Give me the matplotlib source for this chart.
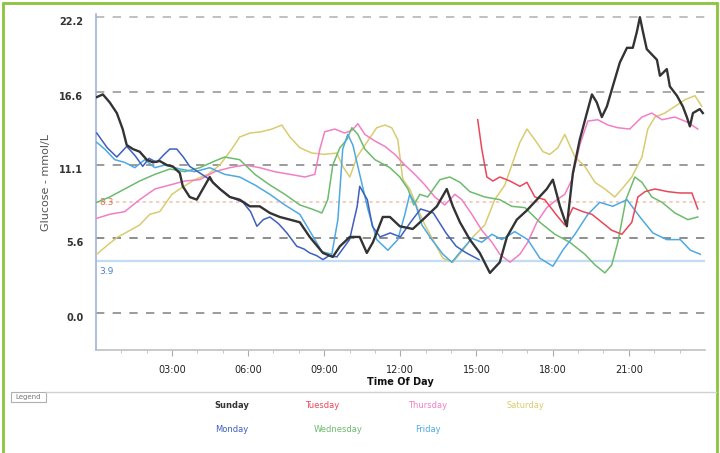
import matplotlib
matplotlib.use("Agg")
import matplotlib.pyplot as plt
from matplotlib.patches import Rectangle
from matplotlib.lines import Line2D

# ---------------- data (hours, mmol/L) ----------------
sun_t = [0.04, 0.28, 0.55, 0.83, 1.06, 1.22, 1.46, 1.73, 2.01, 2.25, 2.52, 2.8, 3.03, 3.31, 3.43, 3.7, 3.98,
         4.22, 4.49, 4.61, 4.89, 5.28, 5.67, 6.07, 6.46, 6.86, 7.25, 7.65, 8.04, 8.43, 8.95, 9.34, 9.62, 10.01,
         10.4, 10.68, 10.92, 11.31, 11.59, 11.98, 12.49, 12.89, 13.44, 13.83, 14.07, 14.35, 14.74, 15.13, 15.53,
         15.92, 16.2, 16.59, 16.99, 17.38, 17.77, 18.01, 18.29, 18.56, 18.68, 18.8, 19.07, 19.35, 19.55, 19.74,
         19.94, 20.14, 20.37, 20.65, 20.93, 21.16, 21.32, 21.44, 21.56, 21.71, 22.11, 22.23, 22.5, 22.62, 22.9,
         23.13, 23.29, 23.41, 23.53, 23.8, 23.92]
sun_v = [16.2, 16.4, 15.8, 15.0, 13.8, 12.6, 12.3, 12.1, 11.5, 11.3, 11.4, 11.1, 11.0, 10.5, 9.5, 8.7, 8.5,
         9.3, 10.2, 9.8, 9.3, 8.7, 8.5, 8.0, 8.0, 7.5, 7.2, 7.0, 6.8, 5.7, 4.5, 4.2, 5.0, 5.7,
         5.7, 4.5, 5.3, 7.2, 7.2, 6.5, 6.3, 7.0, 8.0, 9.3, 8.0, 6.8, 5.5, 4.5, 3.0,
         3.8, 5.7, 7.0, 7.7, 8.5, 9.3, 10.0, 8.0, 6.5, 8.5, 10.5, 13.0, 15.0, 16.4, 15.8,
         14.7, 15.5, 17.0, 18.8, 19.9, 19.9, 21.1, 22.2, 21.1, 19.8, 19.0, 17.8, 18.3, 17.0, 16.3,
         15.5, 14.7, 14.0, 15.0, 15.3, 15.0]

mon_t = [0.04, 0.45, 0.83, 1.22, 1.55, 1.85, 2.1, 2.4, 2.7, 2.92, 3.19, 3.45, 3.7, 4.1, 4.5, 4.9, 5.3, 5.8,
         6.1, 6.35, 6.6, 6.86, 7.2, 7.53, 7.92, 8.2, 8.43, 8.7, 8.95, 9.2, 9.5, 10.0, 10.3, 10.4, 10.7, 10.9,
         11.2, 11.6, 12.0, 12.4, 12.8, 13.3, 13.8, 14.2, 14.6, 15.1]
mon_v = [13.5, 12.4, 11.7, 12.5, 11.8, 11.0, 11.6, 11.3, 11.9, 12.3, 12.3, 11.7, 11.0, 10.5, 10.0, 9.3, 8.7, 8.3,
         7.6, 6.5, 7.0, 7.2, 6.7, 6.0, 5.0, 4.8, 4.5, 4.3, 4.0, 4.3, 4.2, 5.5, 8.0, 9.5, 8.5, 6.5,
         5.7, 6.0, 5.7, 6.8, 7.8, 7.5, 6.0, 5.0, 4.5, 4.0]

tue_t = [15.05, 15.21, 15.41, 15.65, 15.92, 16.32, 16.71, 16.99, 17.3, 17.69, 18.13, 18.48, 18.8, 19.19,
         19.55, 19.94, 20.33, 20.73, 21.12, 21.36, 21.64, 22.03, 22.54, 23.01, 23.49, 23.72]
tue_v = [14.5, 12.3, 10.2, 9.9, 10.2, 9.9, 9.5, 9.8, 8.7, 8.5, 7.4, 6.6, 7.9, 7.6,
         7.4, 6.8, 6.2, 5.9, 6.8, 8.7, 9.1, 9.3, 9.1, 9.0, 9.0, 7.8]

wed_t = [0.04, 0.55, 1.14, 1.73, 2.33, 2.92, 3.51, 4.1, 4.69, 5.08, 5.67, 6.27, 6.86, 7.45, 8.04, 8.51, 8.91,
         9.14, 9.34, 9.62, 9.89, 10.09, 10.33, 10.6, 11.0, 11.59, 11.98, 12.3, 12.53, 12.77, 13.08, 13.56, 13.95,
         14.35, 14.74, 15.33, 15.92, 16.39, 16.91, 17.5, 18.09, 18.68, 19.27, 19.67, 20.06, 20.33, 20.57, 20.89,
         21.24, 21.52, 21.91, 22.31, 22.82, 23.33, 23.72]
wed_v = [8.3, 8.7, 9.3, 9.9, 10.4, 10.8, 10.6, 10.9, 11.4, 11.7, 11.5, 10.4, 9.6, 8.9, 8.1, 7.8, 7.5,
         8.5, 11.1, 12.4, 13.0, 13.9, 13.4, 12.3, 11.5, 10.9, 10.2, 9.3, 8.1, 8.9, 8.7, 10.0, 10.2,
         9.8, 9.1, 8.7, 8.5, 8.0, 7.9, 6.8, 5.9, 5.3, 4.4, 3.6, 3.0, 3.6, 5.3, 8.5,
         10.2, 9.8, 8.7, 8.3, 7.5, 7.0, 7.2]

thu_t = [0.04, 0.55, 1.14, 1.73, 2.33, 2.92, 3.51, 4.1, 4.69, 5.28, 5.87, 6.46, 7.05, 7.65, 8.24, 8.63, 8.83,
         9.02, 9.42, 9.81, 10.09, 10.33, 10.6, 11.0, 11.39, 11.78, 12.18, 12.57, 12.97, 13.36, 13.75, 14.15,
         14.42, 14.82, 15.21, 15.61, 15.92, 16.32, 16.71, 17.02, 17.38, 17.77, 18.17, 18.48, 18.76, 19.07,
         19.39, 19.78, 20.18, 20.57, 21.04, 21.52, 21.91, 22.31, 22.82, 23.33, 23.72]
thu_v = [7.1, 7.4, 7.6, 8.5, 9.3, 9.6, 9.9, 10.0, 10.6, 10.9, 11.1, 10.9, 10.6, 10.4, 10.2, 10.4, 12.3,
         13.6, 13.8, 13.5, 13.7, 14.2, 13.4, 12.9, 12.5, 11.9, 11.1, 10.4, 9.6, 8.7, 8.1, 8.9,
         8.5, 7.4, 6.2, 5.3, 4.4, 3.8, 4.4, 5.3, 6.8, 7.9, 8.5, 8.9, 10.0, 12.6,
         14.4, 14.5, 14.1, 13.9, 13.8, 14.7, 15.0, 14.5, 14.7, 14.3, 13.8]

fri_t = [0.04, 0.35, 0.75, 1.14, 1.54, 1.93, 2.33, 2.72, 3.31, 3.9, 4.49, 5.08, 5.67, 6.27, 6.86, 7.45, 8.04,
         8.51, 8.91, 9.3, 9.54, 9.73, 9.93, 10.13, 10.4, 10.72, 11.07, 11.51, 11.9, 12.18, 12.37, 12.61, 12.85,
         13.24, 13.68, 14.03, 14.42, 14.82, 15.21, 15.61, 16.0, 16.51, 17.02, 17.5, 18.01, 18.4, 18.88, 19.39,
         19.86, 20.37, 20.93, 21.44, 21.95, 22.5, 23.03, 23.43, 23.82]
fri_v = [12.8, 12.3, 11.5, 11.3, 10.9, 11.5, 10.9, 11.1, 10.8, 10.6, 10.9, 10.4, 10.2, 9.6, 8.9, 8.1, 7.4,
         5.9, 4.6, 4.4, 7.0, 12.3, 13.4, 12.6, 10.4, 7.8, 5.5, 4.7, 5.5, 7.4, 8.9, 8.1, 6.6,
         5.5, 4.4, 3.8, 4.7, 5.6, 5.3, 5.9, 5.5, 6.1, 5.5, 4.1, 3.5, 4.7, 5.9, 7.4,
         8.3, 8.0, 8.5, 7.2, 6.0, 5.5, 5.5, 4.7, 4.4]

sat_t = [0.04, 0.47, 0.87, 1.26, 1.73, 2.13, 2.52, 3.0, 3.39, 3.9, 4.41, 4.89, 5.36, 5.67, 6.07, 6.54, 6.94,
         7.33, 7.65, 8.04, 8.51, 9.02, 9.5, 9.73, 10.01, 10.29, 10.68, 11.07, 11.39, 11.66, 11.9, 12.1, 12.37,
         12.69, 12.97, 13.28, 13.68, 14.07, 14.46, 14.86, 15.33, 15.72, 16.12, 16.43, 16.71, 16.99, 17.3, 17.62,
         17.89, 18.21, 18.48, 18.88, 19.27, 19.67, 20.06, 20.45, 20.73, 21.12, 21.52, 21.75, 22.03, 22.42, 22.82,
         23.21, 23.61, 23.88]
sat_v = [4.4, 5.1, 5.7, 6.1, 6.6, 7.4, 7.6, 8.9, 9.4, 10.0, 10.4, 11.1, 12.3, 13.2, 13.5, 13.6, 13.8,
         14.1, 13.2, 12.4, 12.0, 11.9, 12.0, 11.0, 10.2, 11.7, 12.8, 13.9, 14.1, 13.9, 13.0, 10.0, 9.3,
         7.8, 6.6, 5.5, 4.1, 3.8, 4.7, 5.7, 6.6, 8.5, 9.6, 11.3, 12.8, 13.8, 13.0, 12.1,
         11.9, 12.4, 13.4, 11.7, 11.0, 9.8, 9.3, 8.7, 9.3, 10.2, 11.7, 13.8, 14.7, 15.0, 15.5,
         16.0, 16.3, 15.5]

series_names = ["Sunday", "Monday", "Tuesday", "Wednesday", "Thursday", "Friday", "Saturday"]
series_colors = ["#333333", "#3f5fbf", "#e8475a", "#6dbb6d", "#f27fc4", "#4ea9e3", "#d9cc70"]
series_t = [sun_t, mon_t, tue_t, wed_t, thu_t, fri_t, sat_t]
series_v = [sun_v, mon_v, tue_v, wed_v, thu_v, fri_v, sat_v]

y_ticks = [0.0, 5.6, 11.1, 16.6, 22.2]
y_tick_labels = ["0.0", "5.6", "11.1", "16.6", "22.2"]
x_ticks = [3, 6, 9, 12, 15, 18, 21]
x_tick_labels = ["03:00", "06:00", "09:00", "12:00", "15:00", "18:00", "21:00"]
target_high = 8.3
target_low = 3.9

# ---------------- figure ----------------
fig = plt.figure(figsize=(7.2, 4.53), dpi=100)
fig.patch.set_facecolor("white")
ax = fig.add_axes([0.133, 0.227, 0.846, 0.741])

grid_colors = ["#8a8a8a", "#7a7a7a", "#8a8a8a", "#9a9a9a", "#b5b5b5"]
for yv, gc in zip(y_ticks, grid_colors):
    ax.axhline(yv, color=gc, lw=1.2, ls=(0, (5, 5)), zorder=1)
ax.axhline(target_high, color="#f5c6b8", lw=1.2, ls=(0, (2, 2)), zorder=1)
ax.axhline(target_low, color="#c4dcf2", lw=1.6, zorder=1)
ax.text(0.15, target_high, "8.3", color="#e0704a", fontsize=6.5, va="center", ha="left")
ax.text(0.15, target_low - 0.45, "3.9", color="#4a7fd0", fontsize=6.5, va="top", ha="left")

order = [6, 4, 3, 5, 2, 1, 0]
for i in order:
    lw = 1.7 if i == 0 else 1.1
    ax.plot(series_t[i], series_v[i], color=series_colors[i], lw=lw, zorder=3 + (1 if i == 0 else 0))

ax.set_xlim(0, 24)
ax.set_ylim(-2.8, 22.4)
ax.set_xticks(x_ticks)
ax.set_xticklabels(x_tick_labels, fontsize=7, color="#222222")
ax.set_xticks(list(range(1, 24)), minor=True)
ax.set_yticks(y_ticks)
ax.set_yticklabels(y_tick_labels, fontsize=7, color="#333333", fontweight="bold")
for lab in ax.get_yticklabels():
    lab.set_verticalalignment("top")
ax.tick_params(axis="y", length=0, pad=9)
ax.tick_params(axis="x", which="major", length=4, color="#aaaaaa", pad=7)
ax.tick_params(axis="x", which="minor", length=2, color="#bbbbbb")

for s in ["top", "right"]:
    ax.spines[s].set_visible(False)
ax.spines["left"].set_color("#9fb3dc")
ax.spines["left"].set_linewidth(1.2)
ax.spines["bottom"].set_color("#c0c0c0")
ax.spines["bottom"].set_linewidth(1.2)

ax.set_ylabel("Glucose - mmol/L", fontsize=8, color="#555555", labelpad=6)
ax.set_xlabel("Time Of Day", fontsize=7, color="#111111", fontweight="bold", labelpad=1)

# legend area
fig.add_artist(Line2D([46 / 720, 716 / 720], [1 - 392 / 453, 1 - 392 / 453],
                      transform=fig.transFigure, color="#d0d0d0", lw=1))
fig.add_artist(Rectangle((11 / 720, 1 - 402 / 453), 35 / 720, 10 / 453, transform=fig.transFigure,
                         fill=False, edgecolor="#b0b0b0", lw=0.8))
fig.text(28 / 720, 1 - 397 / 453, "Legend", fontsize=5, color="#777777", ha="center", va="center")

legend_pos = {
    "Sunday": (232, 405), "Tuesday": (322, 405), "Thursday": (428, 405), "Saturday": (525, 405),
    "Monday": (232, 430), "Wednesday": (338, 430), "Friday": (428, 430),
}
for name, col in zip(series_names, series_colors):
    px, py = legend_pos[name]
    fig.text(px / 720, 1 - py / 453, name, fontsize=6, color=col, ha="center", va="center",
             fontweight="bold" if name == "Sunday" else "normal")

# green frame
fig.add_artist(Rectangle((3 / 720, -0.01), 714 / 720, 1 - 3 / 453 + 0.01, transform=fig.transFigure,
                         fill=False, edgecolor="#8cc43c", lw=2))

fig.savefig("out.png", dpi=100, facecolor="white")
